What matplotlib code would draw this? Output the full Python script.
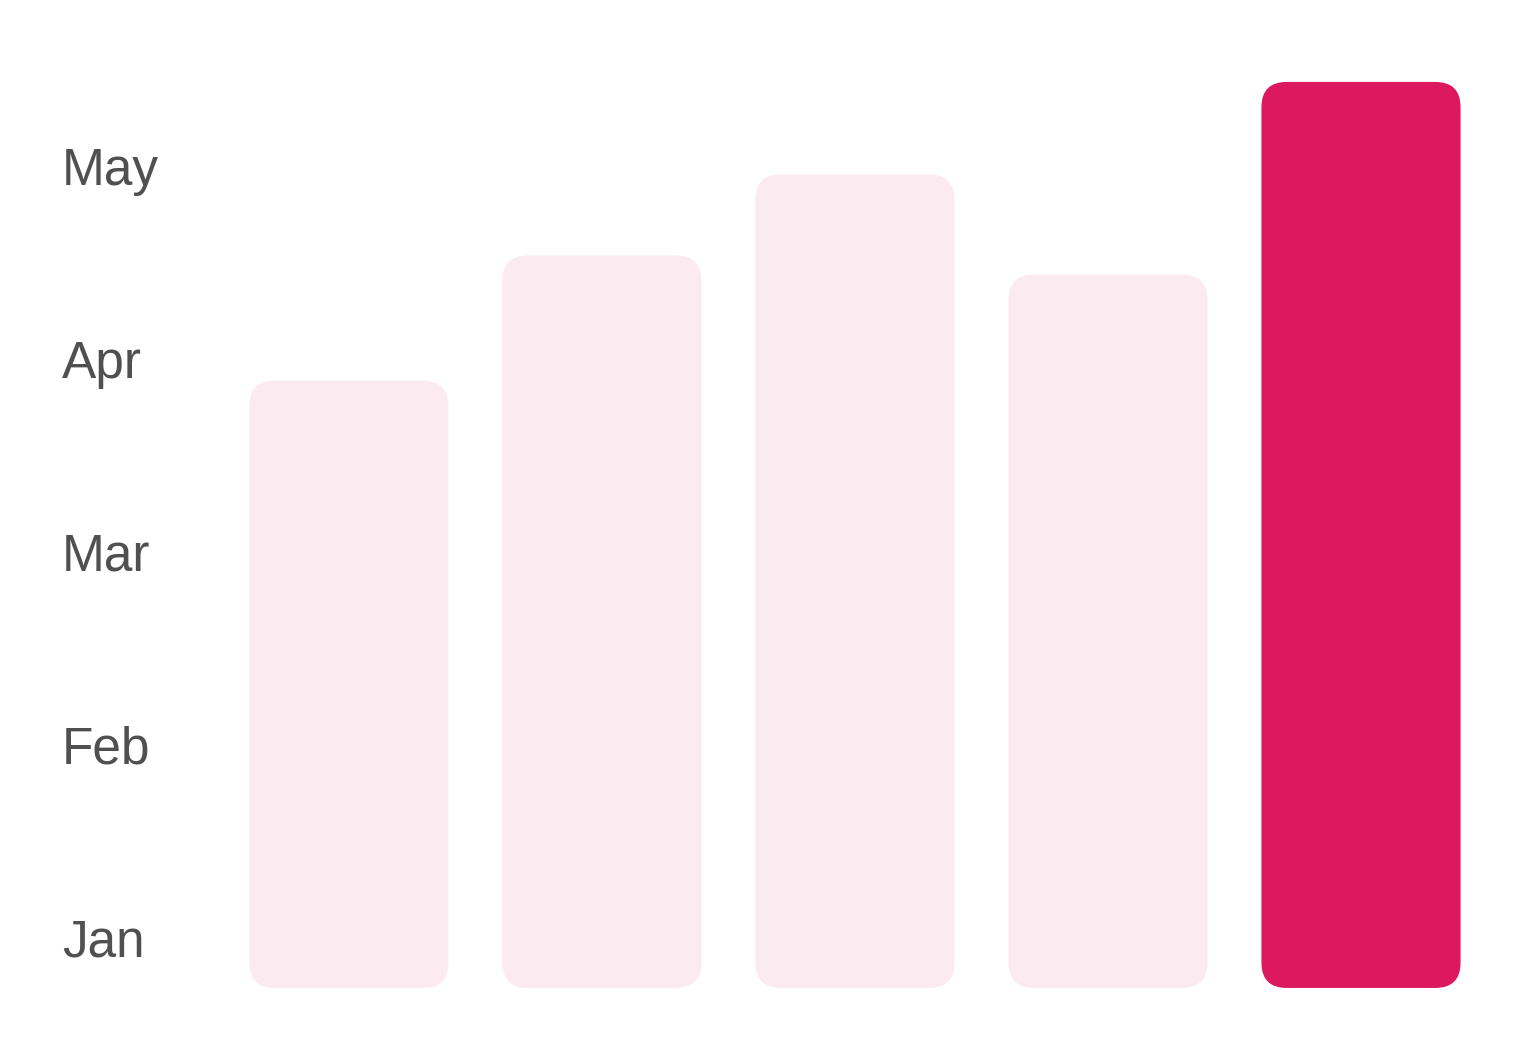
import matplotlib
matplotlib.use("Agg")
import matplotlib.pyplot as plt
from matplotlib.patches import FancyBboxPatch

# data
months = ["Jan", "Feb", "Mar", "Apr", "May"]
month_pos = [5, 25, 45, 65, 85]
bar_values = [63, 76, 84.4, 74, 94]
highlight = 4

light_pink = "#fbebf0"
strong_pink = "#dc185e"

plt.rcParams['font.family'] = ['Liberation Sans', 'DejaVu Sans']

fig = plt.figure(figsize=(15.28, 10.4), dpi=100)
ax = fig.add_axes([0, 0, 1, 1])

x = list(range(len(bar_values)))
width = 0.787
bars = ax.bar(x, bar_values, width=width, color=light_pink)

ax.set_xlim(-1.379, 4.66)
ax.set_ylim(-5.4, 102.5)

# swap plain bars for rounded ones
radius = 0.1
aspect = 2.6 / 0.099
for i, b in enumerate(bars):
    b.set_visible(False)
    patch = FancyBboxPatch((b.get_x(), b.get_y()), b.get_width(), b.get_height(),
                           boxstyle="round,pad=0,rounding_size=%f" % radius,
                           mutation_aspect=aspect, linewidth=0,
                           facecolor=strong_pink if i == highlight else light_pink)
    ax.add_patch(patch)

# month labels on the left
for label, yv in zip(months, month_pos):
    ax.text(-1.134, yv - 0.3, label, fontsize=37, color="#505050",
            ha="left", va="center")

ax.axis("off")
fig.savefig("out.png", dpi=100)
